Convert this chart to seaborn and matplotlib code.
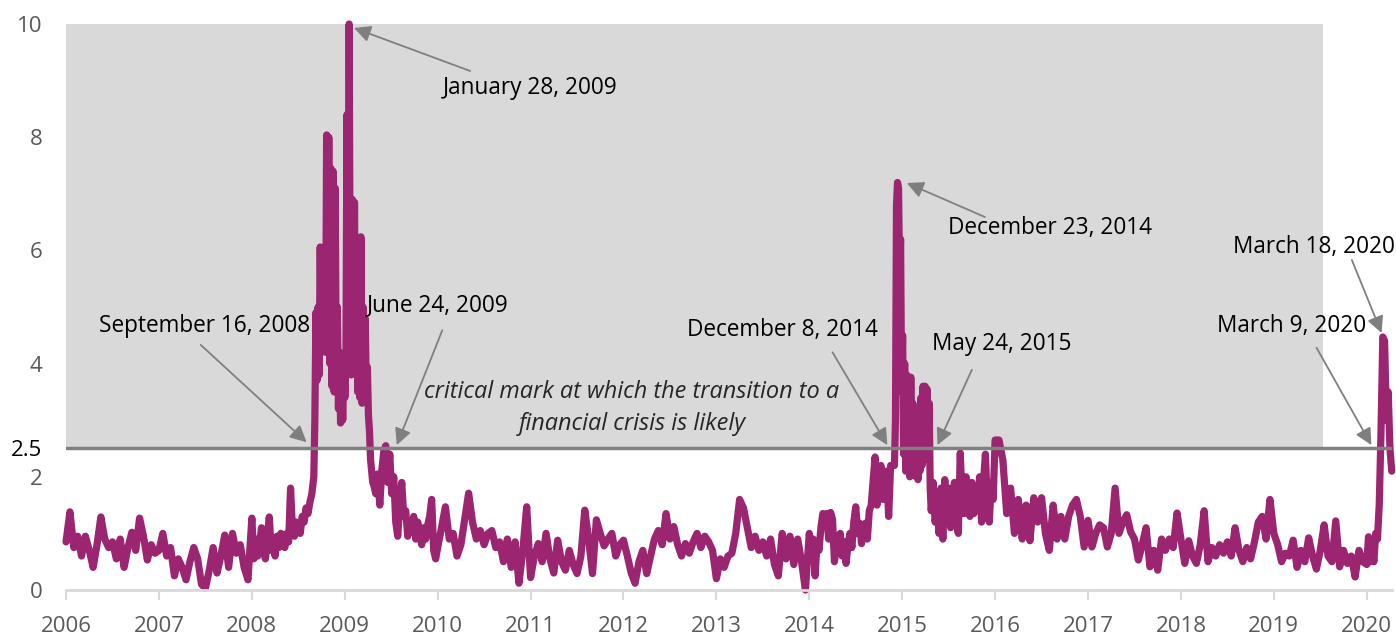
import numpy as np
import pandas as pd
import matplotlib
matplotlib.use("Agg")
import matplotlib.pyplot as plt
import seaborn as sns

# index values; each list is spread evenly over its period
v2006 = [0.85, 1.38, 0.75, 0.95, 0.6, 0.95, 0.7, 0.4, 0.8, 1.29, 0.9, 0.75,
         0.85, 0.55, 0.9, 0.4, 0.75, 1.02, 0.7, 1.27, 0.95, 0.53, 0.8, 0.65]
v2007 = [0.7, 1.0, 0.6, 0.75, 0.25, 0.55, 0.4, 0.18, 0.5, 0.75, 0.55, 0.1,
         0.03, 0.35, 0.75, 0.3, 0.6, 0.97, 0.4, 1.0, 0.65, 0.8, 0.4, 0.18]
v2008 = [1.27, 0.55, 0.9, 0.6, 0.8, 1.1, 0.7, 0.55, 0.9, 1.29, 0.7, 0.85,
         0.6, 0.95, 0.75, 1.0, 0.9, 0.75, 1.0, 0.85, 1.8, 1.05, 0.95, 1.2,
         1.1, 1.0, 1.3, 1.2, 1.45, 1.35, 1.55, 1.7]
crisis_2008 = [2.0, 3.0, 4.9, 3.7, 5.0, 3.8, 6.06, 4.2, 5.8, 4.3, 6.0, 4.2,
               8.04, 4.5, 8.0, 4.0, 7.45, 3.6, 7.4, 3.5, 7.1, 3.6, 5.0, 3.2,
               4.2, 2.95, 3.95, 3.0, 4.0, 3.4, 4.0, 8.4, 4.0, 10.0, 5.0, 3.8,
               6.9, 4.0, 6.85, 3.9, 6.0, 3.5, 4.5, 3.4, 6.24, 3.3, 5.0, 3.4,
               4.8, 3.6, 3.94, 3.1, 2.8, 2.3, 2.1, 1.9]
v2009 = [1.85, 1.7, 2.05, 1.5, 2.1, 2.45, 2.55, 1.9, 2.4, 1.7, 2.0,
         1.2, 0.95, 1.5, 1.9, 1.3, 1.4, 0.95, 1.2, 1.05, 1.3, 0.9, 1.2,
         1.0, 0.8, 1.1, 0.9, 1.15, 1.3, 1.6, 0.7, 0.55]
v2010 = [0.75, 1.1, 1.47, 0.9, 1.0, 0.6, 0.8, 1.25, 1.71, 1.2, 0.9, 1.05,
         0.8, 1.0, 1.05, 0.75, 0.85, 0.5, 0.9, 0.4, 0.85, 0.12, 0.7, 1.47]
v2011 = [0.22, 0.6, 0.82, 0.5, 1.0, 0.55, 0.3, 0.88, 0.5, 0.35, 0.7, 0.45,
         0.29, 0.6, 1.41, 0.9, 0.29, 1.24, 1.0, 0.78, 0.9, 1.0, 0.6, 0.8]
v2012 = [0.88, 0.6, 0.3, 0.12, 0.5, 0.7, 0.29, 0.6, 0.9, 1.05, 0.8, 1.35,
         0.9, 1.12, 0.8, 0.6, 0.82, 0.65, 0.85, 1.0, 0.75, 0.95, 0.85, 0.7]
v2013 = [0.2, 0.55, 0.4, 0.6, 0.65, 1.0, 1.6, 1.45, 1.1, 0.75, 0.95, 0.7,
         0.85, 0.6, 0.9, 0.45, 0.25, 1.0, 0.55, 0.95, 0.45, 0.9, 0.5, 0.0]
v2014 = [1.0, 0.6, 0.9, 0.25, 0.85, 0.7, 1.1, 1.35, 1.2, 1.35, 0.9, 1.37,
         1.25, 0.5, 0.8, 0.9, 1.0, 0.6, 0.85, 0.47, 0.8, 1.0, 0.75, 1.2,
         1.47, 1.0, 1.18, 0.82, 1.1, 1.18, 0.9, 1.4, 1.5, 1.94, 2.35, 1.5,
         1.9, 2.2, 1.6, 2.0, 2.1, 1.3, 2.2, 2.2]
crisis_2014 = [2.2, 3.0, 6.8, 7.2, 7.1, 5.5, 6.2, 3.5, 4.5, 2.4, 4.0, 2.1,
               3.8, 2.3, 3.5, 2.0, 3.76, 2.3, 3.3, 2.5, 3.2, 2.0, 2.6, 1.95,
               2.4, 2.1, 3.4, 2.2, 3.6, 2.3, 3.6, 2.4, 3.55, 2.6, 3.3, 1.8]
v2015 = [1.4, 1.9, 1.2, 1.5, 1.0, 1.8, 0.9, 1.95, 1.3, 1.8, 1.1, 1.6,
         1.9, 1.2, 1.0, 2.42, 1.5, 1.35, 2.0, 1.6, 1.3, 1.9, 1.35, 1.8,
         1.5, 2.0, 1.2, 1.9, 2.4, 1.5, 1.2, 1.9, 1.6]
v2016 = [2.65, 2.65, 2.3, 1.35, 1.8, 1.0, 1.6, 0.9, 1.5, 0.87, 1.63, 1.2,
         1.63, 1.0, 0.7, 1.5, 0.9, 1.3, 0.9, 1.3, 1.5, 1.6, 1.3, 0.76]
v2017 = [1.23, 0.76, 1.0, 1.15, 1.1, 0.76, 1.0, 1.8, 1.0, 1.2, 1.33, 1.03,
         0.9, 0.53, 0.8, 1.1, 0.41, 0.7, 0.35, 0.9, 0.7, 0.9, 0.75, 1.36]
v2018 = [0.9, 0.47, 0.87, 0.6, 0.47, 0.8, 1.4, 0.5, 0.75, 0.6, 0.8, 0.65,
         0.85, 0.6, 1.1, 0.7, 0.5, 0.75, 0.55, 0.85, 1.2, 1.3, 0.9, 1.6]
v2019 = [1.0, 0.8, 0.5, 0.65, 0.6, 0.88, 0.4, 0.7, 0.5, 0.92, 0.6, 0.37,
         0.7, 1.15, 0.6, 0.5, 1.22, 0.41, 0.7, 0.47, 0.6, 0.23, 0.7, 0.5]
v2020 = [0.45, 0.94, 0.5, 0.75, 0.5, 1.0, 0.9, 1.5, 2.8, 4.47, 4.4, 3.0,
         3.5, 2.5, 2.1]

# (period start, period end, values)
segments = [
    (2006, 2007, v2006), (2007, 2008, v2007),
    (2008, 2008 + 32 / 48, v2008), (2008 + 32 / 48, 2009 + 15 / 48, crisis_2008),
    (2009 + 15 / 48, 2010, v2009), (2010, 2011, v2010), (2011, 2012, v2011),
    (2012, 2013, v2012), (2013, 2014, v2013),
    (2014, 2014 + 44 / 48, v2014), (2014 + 44 / 48, 2015 + 15 / 48, crisis_2014),
    (2015 + 15 / 48, 2016, v2015), (2016, 2017, v2016), (2017, 2018, v2017),
    (2018, 2019, v2018), (2019, 2020, v2019), (2020, 2020 + 15 / 52, v2020),
]

rows = []
for start, end, vals in segments:
    step = (end - start) / len(vals)
    for k, v in enumerate(vals):
        rows.append((start + k * step, v))
df = pd.DataFrame(rows, columns=["year", "index"])

threshold = 2.5
shade_end = 2019.53

# annotations: label, text anchor, alignment, arrow start, arrow tip
notes = [
    ("September 16, 2008", (2008.63, 4.66), "right", (2007.45, 4.33), (2008.59, 2.61)),
    ("January 28, 2009", (2010.06, 8.87), "left", (2010.35, 9.17), (2009.10, 9.93)),
    ("June 24, 2009", (2009.24, 5.02), "left", (2010.05, 4.59), (2009.56, 2.56)),
    ("December 8, 2014", (2012.68, 4.59), "left", (2014.25, 4.20), (2014.84, 2.56)),
    ("May 24, 2015", (2015.32, 4.35), "left", (2015.75, 3.89), (2015.38, 2.56)),
    ("December 23, 2014", (2015.49, 6.40), "left", (2015.89, 6.59), (2015.05, 7.19)),
    ("March 18, 2020", (2018.56, 6.06), "left", (2019.84, 5.83), (2020.16, 4.54)),
    ("March 9, 2020", (2018.39, 4.66), "left", (2019.46, 4.28), (2020.05, 2.56)),
]

sns.set_style("white")
plt.rcParams["font.family"] = ["Open Sans", "DejaVu Sans"]

fig = plt.figure(figsize=(13.96, 6.37), dpi=100)
ax = fig.add_axes([0.0473, 0.0738, 0.9497, 0.8885])

ax.fill_between([2006, shade_end], threshold, 10, color="#d9d9d9", lw=0, zorder=0)

sns.lineplot(data=df, x="year", y="index", ax=ax, color="#9b2570", linewidth=5.2,
             estimator=None, sort=False, zorder=2, clip_on=False,
             solid_joinstyle="round", solid_capstyle="round")

ax.axhline(threshold, color="#808080", lw=2.5, zorder=3)

for label, (tx, ty), ha, start, tip in notes:
    ax.text(tx, ty, label, ha=ha, va="center", fontsize=16.3, color="#000000", zorder=5)
    ax.annotate("", xy=tip, xytext=start,
                arrowprops=dict(arrowstyle="-|>,head_length=0.5,head_width=0.25",
                                color="#7f7f7f", lw=1.3, mutation_scale=20,
                                shrinkA=0, shrinkB=0), zorder=4)

ax.text(2012.09, 3.22, "critical mark at which the transition to a\nfinancial crisis is likely",
        ha="center", va="center", fontsize=16.9, style="italic", linespacing=1.45, zorder=5)

ax.set_xlim(2006, 2020.27)
ax.set_ylim(0, 10)
ax.set_xticks(range(2006, 2021))
ax.set_xticklabels([str(y) for y in range(2006, 2021)])
yt = [0, 2, 2.5, 4, 6, 8, 10]
ax.set_yticks(yt)
ax.set_yticklabels(["0", "2", "2.5", "4", "6", "8", "10"])
for lab, v in zip(ax.get_yticklabels(), yt):
    lab.set_color("#000000" if v == threshold else "#595959")

ax.tick_params(axis="x", length=7, width=1.5, color="#d9d9d9", labelcolor="#595959",
               labelsize=16, pad=12, bottom=True)
ax.tick_params(axis="y", length=0, labelsize=16, pad=17)

for s in ["top", "right", "left"]:
    ax.spines[s].set_visible(False)
ax.spines["bottom"].set_color("#d9d9d9")
ax.spines["bottom"].set_linewidth(2)
ax.set_xlabel("")
ax.set_ylabel("")
ax.grid(False)

fig.savefig("out.png", dpi=100)
